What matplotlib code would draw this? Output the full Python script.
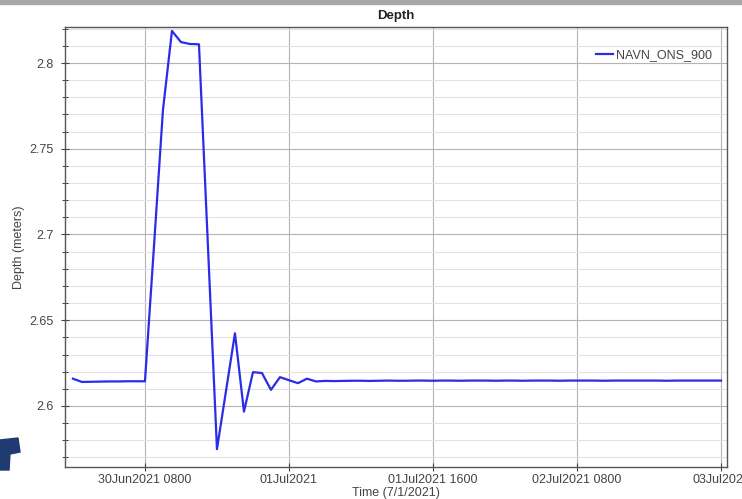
import matplotlib
matplotlib.use("Agg")
import matplotlib.pyplot as plt
import matplotlib.dates as mdates
from matplotlib.ticker import MultipleLocator, FuncFormatter
from matplotlib.patches import Rectangle, Polygon
import numpy as np
import datetime as dt

# serie horaria 30Jun2021 0000 .. 03Jul2021 0000
inicio = dt.datetime(2021, 6, 30, 0, 0)
depth_30jun = [2.6159, 2.6140, 2.6141, 2.6142, 2.6143, 2.6143, 2.6144, 2.6144,
               2.6144, 2.6930, 2.7726, 2.8187, 2.8122, 2.8111, 2.8109, 2.6930,
               2.5748, 2.6086, 2.6424, 2.5967, 2.6197, 2.6192, 2.6094, 2.6168]
depth_01jul = [2.6150, 2.6133, 2.6159, 2.6143, 2.6146, 2.6145, 2.6146, 2.6147,
               2.6147, 2.6146, 2.6147, 2.6148, 2.6147, 2.6147, 2.6148, 2.6148,
               2.6147, 2.6148, 2.6148, 2.6147, 2.6148, 2.6148, 2.6148, 2.6147]
depth_02jul = [2.6148, 2.6148, 2.6147, 2.6148, 2.6148, 2.6148, 2.6147, 2.6148,
               2.6148, 2.6148, 2.6148, 2.6147, 2.6148, 2.6148, 2.6148, 2.6148,
               2.6148, 2.6148, 2.6147, 2.6148, 2.6148, 2.6148, 2.6148, 2.6148,
               2.6148]
depth = depth_30jun + depth_01jul + depth_02jul
tiempos = [inicio + dt.timedelta(hours=h) for h in range(len(depth))]

xticks = [dt.datetime(2021, 6, 30, 8), dt.datetime(2021, 7, 1, 0),
          dt.datetime(2021, 7, 1, 16), dt.datetime(2021, 7, 2, 8),
          dt.datetime(2021, 7, 3, 0)]
xticklabels = ["30Jun2021 0800", "01Jul2021", "01Jul2021 1600",
               "02Jul2021 0800", "03Jul2021"]
serie = "NAVN_ONS_900"

plt.rcParams['font.family'] = ['Liberation Sans', 'DejaVu Sans']

fig = plt.figure(figsize=(7.42, 4.99), dpi=100)
ax = fig.add_axes([65/742, 1 - 467/499, (727-65)/742, (467-27)/499])

ax.plot(tiempos, depth, color='#2b2bea', lw=1.6, label=serie)

ax.set_xlim(dt.datetime(2021, 6, 29, 23, 7), dt.datetime(2021, 7, 3, 0, 40))
ax.set_ylim(2.5644, 2.821)

ax.set_xticks([mdates.date2num(t) for t in xticks])
ax.set_xticklabels(xticklabels)
ax.yaxis.set_major_locator(MultipleLocator(0.05))
ax.yaxis.set_minor_locator(MultipleLocator(0.01))
ax.yaxis.set_major_formatter(FuncFormatter(lambda v, p: '%g' % round(v, 3)))

ax.grid(True, which='major', axis='both', color='#b4b4b4', lw=0.8)
ax.grid(True, which='minor', axis='y', color='#e0e0e0', lw=0.7)
ax.set_axisbelow(True)

ax.tick_params(axis='both', which='major', direction='inout', length=6,
               width=0.8, color='#444444', labelsize=9, labelcolor='#444444')
ax.tick_params(axis='y', which='minor', direction='inout', length=4,
               width=0.7, color='#444444')
ax.tick_params(axis='x', pad=2)
ax.tick_params(axis='y', pad=5)

for s in ax.spines.values():
    s.set_color('#555555')
    s.set_linewidth(1.0)

ax.set_title("Depth", fontsize=9.5, fontweight='bold', color='#222222', pad=6)
ax.set_xlabel("Time (7/1/2021)", fontsize=9, color='#444444', labelpad=1)
ax.set_ylabel("Depth (meters)", fontsize=9, color='#444444', labelpad=3)

leg = ax.legend(loc='upper right', frameon=False, fontsize=9,
                handlelength=1.3, handletextpad=0.3,
                bbox_to_anchor=(0.995, 0.975))
for t in leg.get_texts():
    t.set_color('#444444')

# restos de la captura de pantalla
fig.patches.append(Rectangle((0, 1 - 4/499), 1, 4/499, transform=fig.transFigure,
                             color='#a8a8a8', zorder=0))
fig.patches.append(Polygon([[0, 1 - 440/499], [18/742, 1 - 438/499],
                            [20/742, 1 - 452/499], [10/742, 1 - 454/499],
                            [9/742, 1 - 470/499], [0, 1 - 470/499]],
                           closed=True, transform=fig.transFigure,
                           color='#1f3a6e', zorder=0))

fig.savefig("out.png", dpi=100)
